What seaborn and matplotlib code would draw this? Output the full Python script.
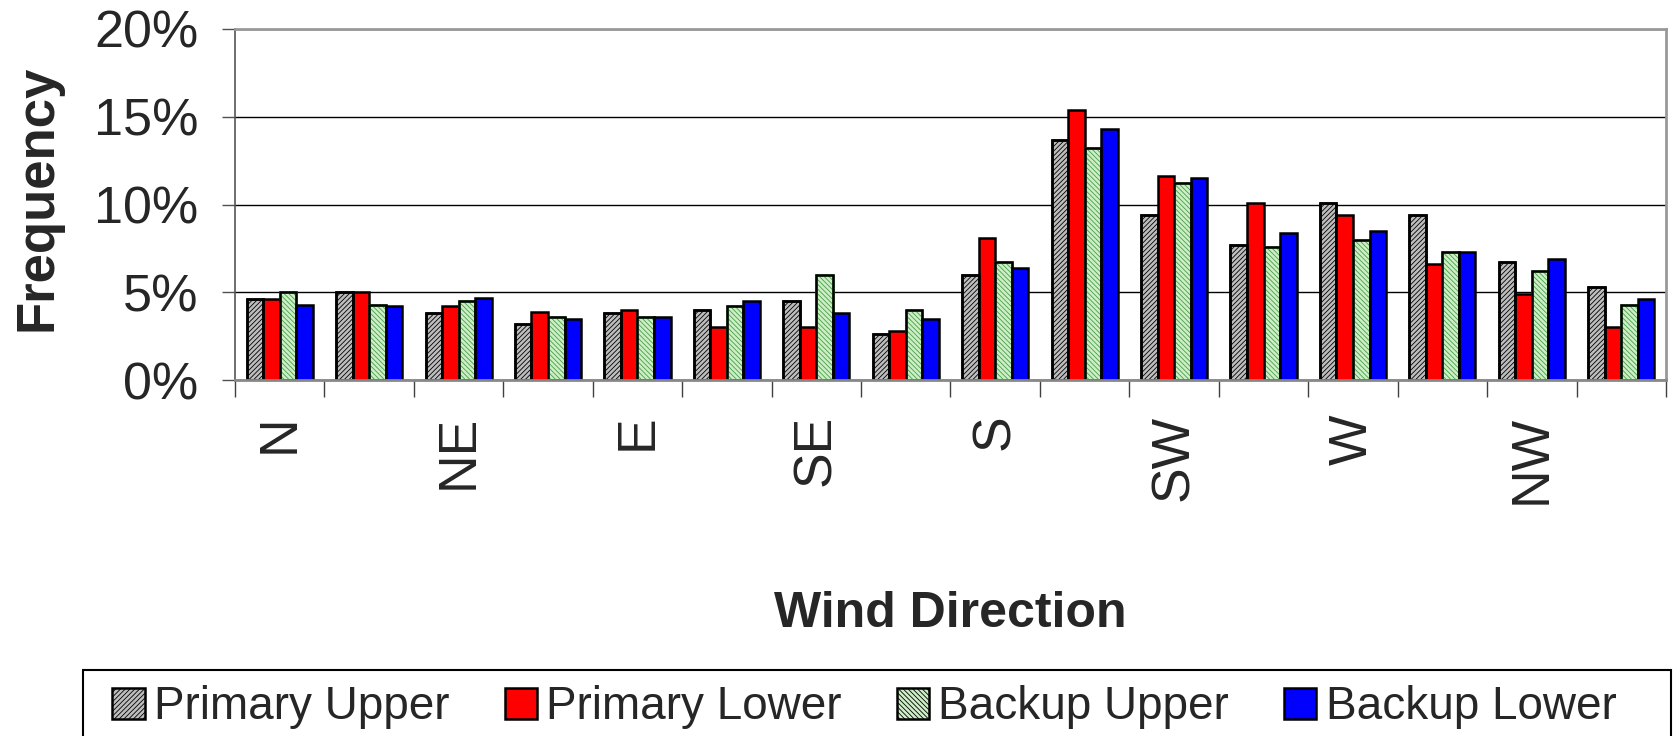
import numpy as np
import pandas as pd
import matplotlib
matplotlib.use("Agg")
import matplotlib.pyplot as plt
from matplotlib.patches import Patch, Rectangle
from matplotlib.ticker import PercentFormatter
import seaborn as sns

# 16-point compass sectors; only every other one carries a tick label
directions = ["N", "NNE", "NE", "ENE", "E", "ESE", "SE", "SSE",
              "S", "SSW", "SW", "WSW", "W", "WNW", "NW", "NNW"]
shown_labels = ["N", "NE", "E", "SE", "S", "SW", "W", "NW"]
series = ["Primary Upper", "Primary Lower", "Backup Upper", "Backup Lower"]

# Frequency of each wind direction, in percent
primary_upper = [4.6, 5.0, 3.8, 3.2, 3.8, 4.0, 4.5, 2.6, 6.0, 13.7, 9.4, 7.7, 10.1, 9.4, 6.7, 5.3]
primary_lower = [4.6, 5.0, 4.2, 3.9, 4.0, 3.0, 3.0, 2.8, 8.1, 15.4, 11.6, 10.1, 9.4, 6.6, 4.9, 3.0]
backup_upper = [5.0, 4.3, 4.5, 3.6, 3.6, 4.2, 6.0, 4.0, 6.7, 13.2, 11.2, 7.6, 8.0, 7.3, 6.2, 4.3]
backup_lower = [4.3, 4.2, 4.7, 3.5, 3.6, 4.5, 3.8, 3.5, 6.4, 14.3, 11.5, 8.4, 8.5, 7.3, 6.9, 4.6]

df = pd.DataFrame({
    "direction": directions * 4,
    "series": np.repeat(series, len(directions)),
    "frequency": primary_upper + primary_lower + backup_upper + backup_lower,
})

fill_colors = {"Primary Upper": "#bdbdbd", "Primary Lower": "#ff0000",
               "Backup Upper": "#cdeec6", "Backup Lower": "#0000ff"}
hatches = {"Primary Upper": ("///////", "black"),
           "Backup Upper": ("\\\\\\\\\\\\\\", "#45a045")}

sns.set_theme(style="white")
plt.rcParams["font.family"] = ["Liberation Sans", "DejaVu Sans"]
plt.rcParams["hatch.linewidth"] = 0.6

fig = plt.figure(figsize=(16.74, 7.36), dpi=100)
ax = fig.add_axes([235 / 1674, 1 - 380 / 736, (1666 - 235) / 1674, (380 - 29) / 736])

edge_lw = 1.8
sns.barplot(data=df, x="direction", y="frequency", hue="series",
            order=directions, hue_order=series, palette=fill_colors,
            saturation=1, width=0.74, gap=0, dodge=True,
            edgecolor="black", linewidth=edge_lw, legend=False, ax=ax)

can_hatchcolor = hasattr(Patch, "set_hatchcolor")
for name, container in zip(series, ax.containers):
    if name not in hatches:
        continue
    pattern, hcolor = hatches[name]
    for bar in container:
        bar.set_hatch(pattern)
        if can_hatchcolor:
            bar.set_hatchcolor(hcolor)
        else:
            bar.set_edgecolor(hcolor)
            ax.add_patch(Rectangle(bar.get_xy(), bar.get_width(), bar.get_height(),
                                   fill=False, edgecolor="black", linewidth=edge_lw,
                                   zorder=bar.get_zorder() + 0.1))

# Y axis: 0-20 % with black gridlines every 5 %
ax.set_ylim(0, 20)
ax.set_yticks([0, 5, 10, 15, 20])
ax.yaxis.set_major_formatter(PercentFormatter(xmax=100, decimals=0))
ax.yaxis.grid(True, color="black", linewidth=1.0)
ax.set_axisbelow(True)
ax.tick_params(axis="y", which="major", direction="out", length=9.5, width=1,
               color="#505050", labelsize=37.5, pad=17, left=True)

# X axis: labels on alternate sectors, tick marks between sectors
ax.set_xlim(-0.5, len(directions) - 0.5)
ax.set_xticks(range(0, len(directions), 2))
ax.set_xticklabels(shown_labels, rotation=90)
ax.set_xticks(np.arange(-0.5, len(directions), 1), minor=True)
ax.tick_params(axis="x", which="major", length=0, labelsize=38.5, pad=25)
ax.tick_params(axis="x", which="minor", direction="out", length=12.5, width=1,
               color="#404040", bottom=True)

for side, (col, lw) in {"left": ("#555555", 1.2), "bottom": ("#888888", 2.0),
                        "top": ("#999999", 2.0), "right": ("#999999", 2.0)}.items():
    ax.spines[side].set_visible(True)
    ax.spines[side].set_color(col)
    ax.spines[side].set_linewidth(lw)

ax.set_ylabel("Frequency", fontsize=38, fontweight="bold")
ax.yaxis.label.set_va("center")
ax.yaxis.set_label_coords(-0.138, 0.52)
ax.set_xlabel("Wind Direction", fontsize=36, fontweight="bold")
ax.xaxis.label.set_va("center")
ax.xaxis.set_label_coords(0.5, -(614 - 380) / 351)

# Legend across the bottom, inside a plain rectangular frame
handles = []
for name in series:
    h = Patch(facecolor=fill_colors[name], edgecolor="black", linewidth=edge_lw)
    if name in hatches:
        h.set_hatch(hatches[name][0])
        if can_hatchcolor:
            h.set_hatchcolor(hatches[name][1])
    handles.append(h)
fig.legend(handles, series, loc="upper left",
           bbox_to_anchor=(101 / 1674, 1 - 674 / 736), ncol=4,
           fontsize=33, frameon=False,
           handlelength=0.7, handleheight=0.65, handletextpad=0.2,
           columnspacing=1.21, borderpad=0.25, borderaxespad=0)
fig.patches.append(Rectangle((83 / 1674, -0.05), (1671 - 83) / 1674, 0.05 + 66 / 736,
                             transform=fig.transFigure, fill=False,
                             edgecolor="black", linewidth=1.5))

fig.savefig("out.png", dpi=100)
